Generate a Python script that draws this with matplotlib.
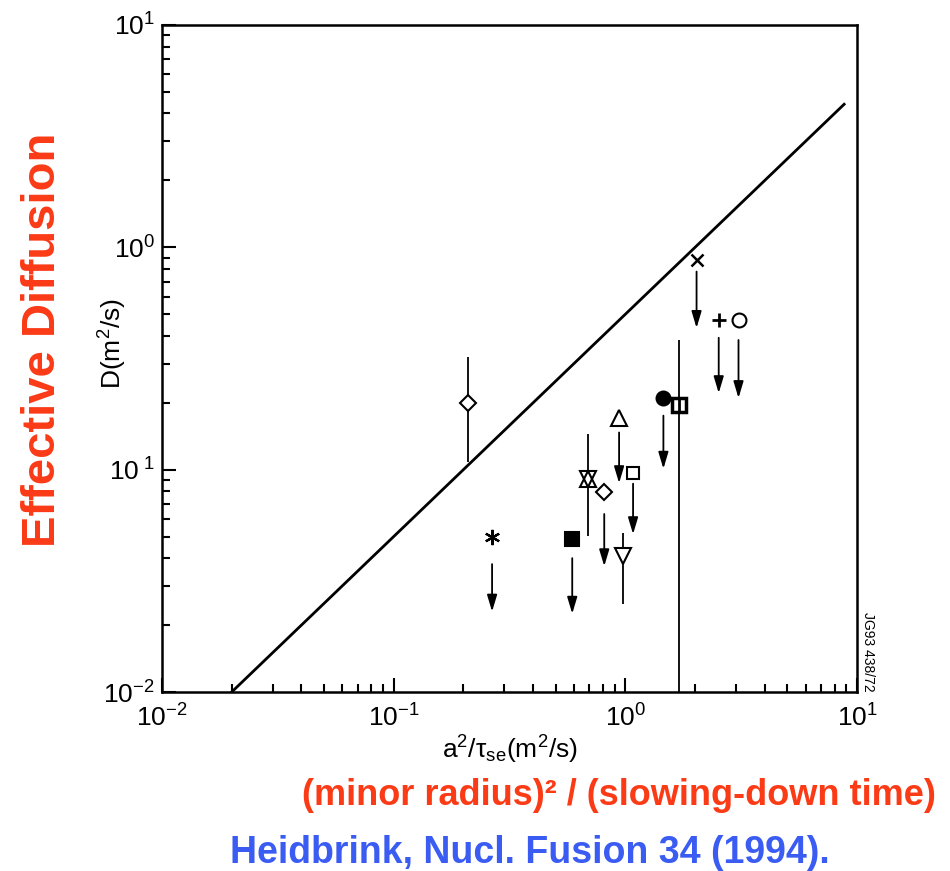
import matplotlib.pyplot as plt
import matplotlib as mpl

mpl.rcParams["font.family"] = ["Liberation Sans", "DejaVu Sans"]
mpl.rcParams["mathtext.fontset"] = "custom"
mpl.rcParams["mathtext.rm"] = "Liberation Sans"
mpl.rcParams["mathtext.it"] = "Liberation Sans:italic"
mpl.rcParams["mathtext.default"] = "regular"

# scaling line D = 0.5 a^2/tau_se
line_x = [0.02, 8.8]
line_y = [0.01, 4.4]

# data points (a^2/tau_se, D)
pts_x = [0.209, 0.266, 0.59, 0.692, 0.811, 0.94, 1.08, 0.98, 1.46, 1.71, 2.03, 2.53, 3.08]
pts_y = [0.199, 0.0498, 0.049, 0.091, 0.0795, 0.170, 0.097, 0.0408, 0.21, 0.195, 0.88, 0.472, 0.472]
pts_kind = ["diamond", "asterisk", "fsquare", "star", "diamond", "tri_up",
            "square", "tri_down", "fcircle", "boxsq", "x", "plus", "circle"]

# error bars without arrows
bar_x = [0.209, 0.692, 0.98, 1.71]
bar_lo = [0.108, 0.0503, 0.025, 0.01]
bar_hi = [0.321, 0.144, 0.0519, 0.383]

# upper-limit arrows
arr_x = [0.266, 0.59, 0.811, 0.94, 1.08, 1.46, 2.03, 2.53, 3.08]
arr_top = [0.0376, 0.040, 0.0632, 0.147, 0.0865, 0.175, 0.778, 0.392, 0.383]
arr_bot = [0.023, 0.0225, 0.0368, 0.087, 0.0513, 0.101, 0.434, 0.221, 0.21]

xtick_vals = [0.01, 0.1, 1, 10]
xtick_labels = ["10$^{-2}$", "10$^{-1}$", "10$^{0}$", "10$^{1}$"]
ytick_vals = [0.01, 0.1, 1, 10]
ytick_labels = ["10$^{-2}$", "10$^{\\ 1}$", "10$^{0}$", "10$^{1}$"]

red = "#fb3a16"
blue = "#3a5cf2"

fig = plt.figure(figsize=(9.5, 8.71), dpi=100)
ax = fig.add_axes([0.1705, 0.2055, 0.7316, 0.7658])
ax.set_xscale("log")
ax.set_yscale("log")
ax.set_xlim(0.01, 10)
ax.set_ylim(0.01, 10)

ax.plot(line_x, line_y, color="k", lw=2.0)
ax.vlines(bar_x, bar_lo, bar_hi, color="k", lw=1.3)
for x, t, b in zip(arr_x, arr_top, arr_bot):
    ax.annotate("", xy=(x, b), xytext=(x, t),
                arrowprops=dict(arrowstyle="-|>,head_length=1.0,head_width=0.3",
                                color="k", lw=1.3, shrinkA=0, shrinkB=0))

styles = {
    "diamond": dict(marker="D", ms=8, mfc="white"),
    "asterisk": dict(marker=(6, 2, 0), ms=11, mew=1.6),
    "fsquare": dict(marker="s", ms=10, mfc="k"),
    "tri_up": dict(marker="^", ms=11, mfc="white"),
    "square": dict(marker="s", ms=9, mfc="white"),
    "tri_down": dict(marker="v", ms=11, mfc="white"),
    "fcircle": dict(marker="o", ms=10, mfc="k"),
    "boxsq": dict(marker="s", ms=10, mfc="white", mew=2.5),
    "x": dict(marker="x", ms=9, mew=1.8),
    "plus": dict(marker="+", ms=10, mew=2),
    "circle": dict(marker="o", ms=10, mfc="white"),
}
for x, y, k in zip(pts_x, pts_y, pts_kind):
    if k == "star":
        ax.plot([x], [y], marker="^", ms=11, mfc="white", mec="k", mew=1.5, ls="none")
        ax.plot([x], [y], marker="v", ms=11, mfc="none", mec="k", mew=1.5, ls="none")
        continue
    st = dict(mec="k", mew=1.5, color="k")
    st.update(styles[k])
    ax.plot([x], [y], ls="none", **st)
    if k == "boxsq":
        ax.plot([x], [y], marker="|", ms=8, mew=2, color="k", ls="none")

for s in ax.spines.values():
    s.set_linewidth(1.8)
ax.tick_params(which="both", direction="in", top=False, right=False, width=1.5)
ax.tick_params(which="major", length=10, labelsize=19, pad=9)
ax.tick_params(which="minor", length=6)
ax.set_xticks(xtick_vals, xtick_labels)
ax.set_yticks(ytick_vals, ytick_labels)
ax.tick_params(axis="y", pad=5)

ax.set_xlabel("a$^2$/$\\tau_{se}$(m$^2$/s)", fontsize=19)
ax.xaxis.label.set_va("center")
ax.xaxis.set_label_coords(0.5, -0.087)
ax.set_ylabel("D(m$^2$/s)", fontsize=19)
ax.yaxis.label.set_va("center")
ax.yaxis.set_label_coords(-0.07, 0.522)

ax.text(1.006, 0.06, "JG93 438/72", transform=ax.transAxes, rotation=-90,
        fontsize=10, ha="left", va="center")

fig.text(0.045, 0.61, "Effective Diffusion", rotation=90, color=red,
         fontsize=34, fontweight="bold", ha="center", va="center")
fig.text(0.652, 0.087, "(minor radius)² / (slowing-down time)", color=red,
         fontsize=26, fontweight="bold", ha="center", va="center")
fig.text(0.558, 0.0207, "Heidbrink, Nucl. Fusion 34 (1994).", color=blue,
         fontsize=27, fontweight="bold", ha="center", va="center")

fig.savefig("out.png", dpi=100)
